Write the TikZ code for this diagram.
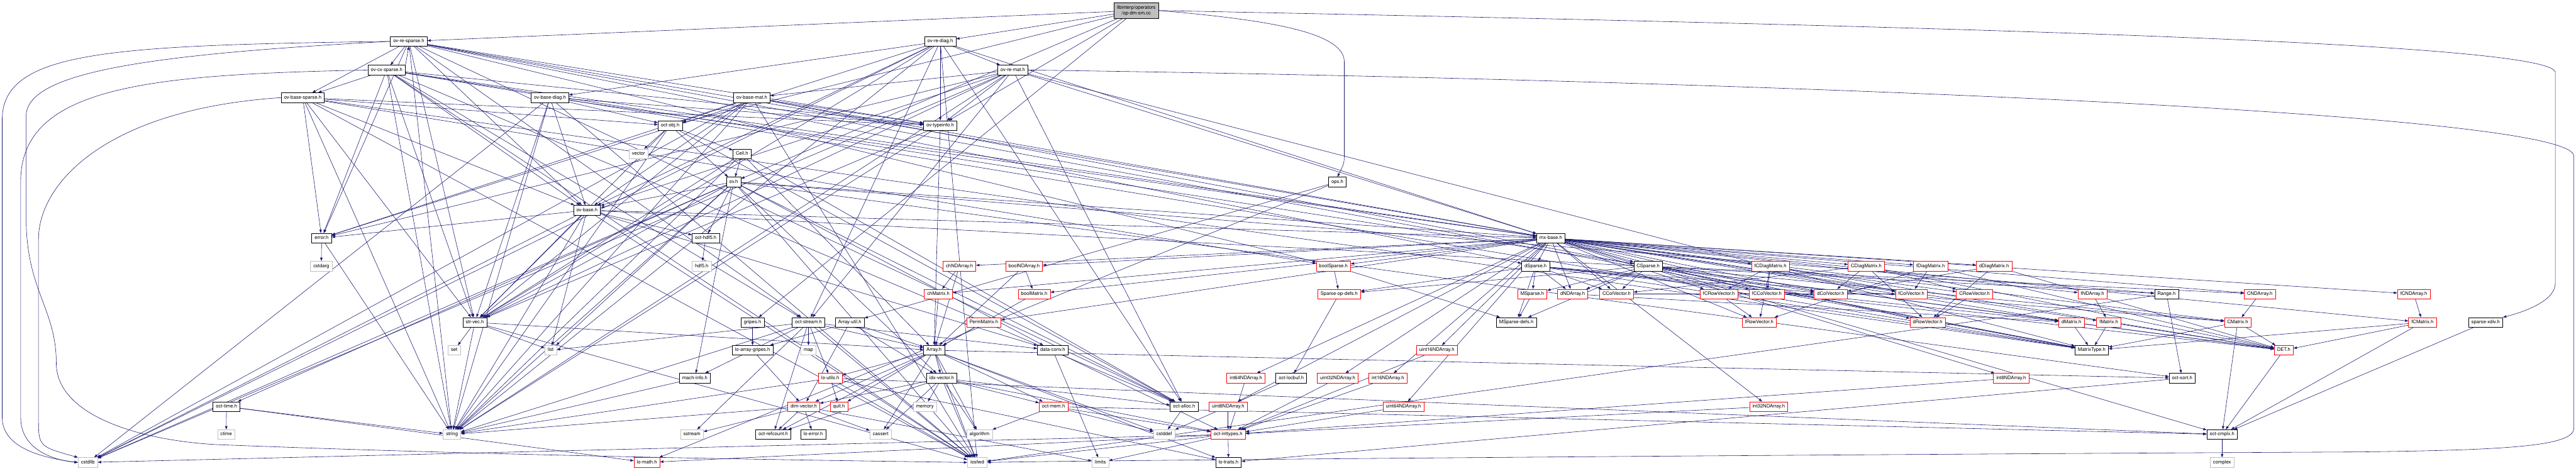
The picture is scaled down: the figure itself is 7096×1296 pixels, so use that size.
\documentclass[tikz,border=0pt]{standalone}
\usepackage{fontspec}
\setmainfont{TeX Gyre Heros}
\usetikzlibrary{arrows.meta,backgrounds}
\definecolor{edgeblue}{HTML}{191970}
\definecolor{sysgray}{HTML}{BFBFBF}
\tikzset{
  hdr/.style={draw=black, line width=0.75pt, fill=white, font=\fontsize{10}{12}\selectfont,
    inner xsep=6pt, inner ysep=0pt, minimum height=20pt, text height=7.2pt, text depth=2.2pt},
  trunc/.style={hdr, draw=red},
  sys/.style={hdr, draw=sysgray},
  rootbox/.style={hdr, fill=sysgray, align=center, minimum height=33pt, text height=, text depth=},
  dep/.style={draw=edgeblue, line width=0.75pt, -{Triangle[length=7pt,width=5pt]}}
}
\begin{document}
\begin{tikzpicture}[x=0.75pt,y=-0.75pt]
\path[use as bounding box] (0,0) rectangle (7096,1296);

% source file
\node[rootbox] (root) at (3130,29) {libinterp/operators\\/op-dm-sm.cc};

% octave value headers
\node[hdr] (ovresparse) at (1126,114) {ov-re-sparse.h};
\node[hdr] (ovrediag) at (2590,114) {ov-re-diag.h};
\node[hdr] (ovcxsparse) at (1065,193) {ov-cx-sparse.h};
\node[hdr] (ovremat) at (2790,193) {ov-re-mat.h};
\node[hdr] (ovbasesparse) at (834,269) {ov-base-sparse.h};
\node[hdr] (ovbasediag) at (1515,269) {ov-base-diag.h};
\node[hdr] (ovbasemat) at (2071,269) {ov-base-mat.h};
\node[hdr] (octobj) at (1846,346) {oct-obj.h};
\node[hdr] (ovtypeinfo) at (2590,346) {ov-typeinfo.h};
\node[sys] (vector) at (1759,424) {vector};
\node[hdr] (cell) at (2044,424) {Cell.h};
\node[hdr] (ovh) at (2021,501) {ov.h};
\node[hdr] (opsh) at (3684,501) {ops.h};
\node[hdr] (ovbase) at (1617,579) {ov-base.h};
\node[hdr] (errorh) at (886,656) {error.h};
\node[hdr] (octhdf) at (1944,656) {oct-hdf5.h};
\node[hdr] (mxbase) at (4272,656) {mx-base.h};

% row 733
\node[sys] (cstdarg) at (885,733) {cstdarg};
\node[sys] (hdf) at (1933,733) {hdf5.h};
\node[trunc] (chnda) at (2643,733) {chNDArray.h};
\node[trunc] (boolnda) at (2821,733) {boolNDArray.h};
\node[trunc] (boolsparse) at (3673,733) {boolSparse.h};
\node[hdr] (dsparse) at (4230,733) {dSparse.h};
\node[hdr] (csparse) at (4540,733) {CSparse.h};
\node[trunc] (fcdiag) at (4877,733) {fCDiagMatrix.h};
\node[trunc] (cdiag) at (5141,733) {CDiagMatrix.h};
\node[trunc] (fdiag) at (5318,733) {fDiagMatrix.h};
\node[trunc] (ddiag) at (5493,733) {dDiagMatrix.h};

% row 810
\node[trunc] (chmat) at (2585,810) {chMatrix.h};
\node[trunc] (boolmat) at (2849,810) {boolMatrix.h};
\node[trunc] (sparseop) at (3689,810) {Sparse-op-defs.h};
\node[trunc] (msparse) at (4221,810) {MSparse.h};
\node[trunc] (dnda) at (4332,810) {dNDArray.h};
\node[trunc] (ccolvec) at (4453,810) {CColVector.h};
\node[trunc] (fcrowvec) at (4735,810) {fCRowVector.h};
\node[trunc] (fccolvec) at (4867,810) {fCColVector.h};
\node[trunc] (dcolvec) at (5043,810) {dColVector.h};
\node[trunc] (fcolvec) at (5265,810) {fColVector.h};
\node[trunc] (crowvec) at (5439,810) {CRowVector.h};
\node[trunc] (fnda) at (5764,810) {fNDArray.h};
\node[hdr] (range) at (5968,810) {Range.h};
\node[trunc] (cnda) at (6225,810) {CNDArray.h};
\node[trunc] (fcnda) at (6649,810) {fCNDArray.h};

% row 888
\node[hdr] (strvec) at (1308,888) {str-vec.h};
\node[hdr] (gripes) at (2073,888) {gripes.h};
\node[hdr] (octstream) at (2227,888) {oct-stream.h};
\node[hdr] (arrayutil) at (2341,888) {Array-util.h};
\node[trunc] (permmat) at (2710,888) {PermMatrix.h};
\node[hdr] (msparsedefs) at (4177,888) {MSparse-defs.h};
\node[trunc] (frowvec) at (4846,888) {fRowVector.h};
\node[trunc] (drowvec) at (5310,888) {dRowVector.h};
\node[trunc] (dmat) at (5706,888) {dMatrix.h};
\node[trunc] (fmat) at (5809,888) {fMatrix.h};
\node[trunc] (cmat) at (6164,888) {CMatrix.h};
\node[trunc] (fcmat) at (6673,888) {fCMatrix.h};
\node[hdr] (sparsexdiv) at (6847,888) {sparse-xdiv.h};

% row 965
\node[sys] (set) at (1251,965) {set};
\node[sys] (list) at (1517,965) {list};
\node[hdr] (loarraygripes) at (2073,965) {lo-array-gripes.h};
\node[sys] (map) at (2227,965) {map};
\node[hdr] (array) at (2573,965) {Array.h};
\node[hdr] (dataconv) at (2900,965) {data-conv.h};
\node[trunc] (uint16) at (3958,965) {uint16NDArray.h};
\node[hdr] (matrixtype) at (5762,965) {MatrixType.h};
\node[trunc] (det) at (6291,965) {DET.h};

% row 1042
\node[hdr] (machinfo) at (1914,1042) {mach-info.h};
\node[trunc] (loutils) at (2287,1042) {lo-utils.h};
\node[hdr] (idxvec) at (2594,1042) {idx-vector.h};
\node[trunc] (int64) at (3432,1042) {int64NDArray.h};
\node[hdr] (octlocbuf) at (3557,1042) {oct-locbuf.h};
\node[trunc] (uint32) at (3685,1042) {uint32NDArray.h};
\node[trunc] (int16) at (3823,1042) {int16NDArray.h};
\node[trunc] (int8) at (5540,1042) {int8NDArray.h};
\node[hdr] (octsort) at (6011,1042) {oct-sort.h};

% row 1120
\node[hdr] (octtime) at (624,1120) {oct-time.h};
\node[trunc] (dimvec) at (2214,1120) {dim-vector.h};
\node[trunc] (quit) at (2311,1120) {quit.h};
\node[sys] (memory) at (2548,1120) {memory};
\node[trunc] (octmem) at (2902,1120) {oct-mem.h};
\node[hdr] (octalloc) at (3262,1120) {oct-alloc.h};
\node[trunc] (uint8) at (3383,1120) {uint8NDArray.h};
\node[trunc] (uint64) at (3866,1120) {uint64NDArray.h};
\node[trunc] (int32) at (4872,1120) {int32NDArray.h};

% row 1197
\node[sys] (ctime) at (623,1197) {ctime};
\node[sys] (string) at (1245,1197) {string};
\node[sys] (sstream) at (1906,1197) {sstream};
\node[hdr] (octrefcount) at (2130,1197) {oct-refcount.h};
\node[hdr] (loerror) at (2240,1197) {lo-error.h};
\node[sys] (cassert) at (2426,1197) {cassert};
\node[sys] (algorithm) at (2698,1197) {algorithm};
\node[sys] (cstddef) at (3207,1197) {cstddef};
\node[trunc] (octinttypes) at (3383,1197) {oct-inttypes.h};
\node[hdr] (octcmplx) at (6121,1197) {oct-cmplx.h};

% row 1274
\node[sys] (cstdlib) at (242,1274) {cstdlib};
\node[trunc] (lomath) at (1782,1274) {lo-math.h};
\node[sys] (iosfwd) at (2692,1274) {iosfwd};
\node[sys] (limits) at (3031,1274) {limits};
\node[hdr] (lotraits) at (3384,1274) {lo-traits.h};
\node[sys] (complex) at (6121,1274) {complex};

\begin{scope}[on background layer]
% from the source file
\foreach \dst in {ovresparse,ovrediag,ovtypeinfo,gripes,octobj,ovh}
  \draw[dep] (root) -- (\dst);
\draw[dep] (root.east) .. controls (3500,55) and (3703,90) .. (3703,170) -- (3703,420) .. controls (3703,450) .. (opsh.north);
\draw[dep] (root.east) .. controls (5500,75) and (7039,120) .. (7039,200) -- (7039,780) .. controls (7039,830) and (6950,860) .. (sparsexdiv.north east);

% octave value headers
\foreach \dst in {cstdlib,iosfwd,string,mxbase,strvec,octalloc,errorh,octstream,ovbase,ovbasediag,ovremat,ovtypeinfo}
  \draw[dep] (ovrediag) -- (\dst);
\foreach \dst in {string,mxbase,octalloc,strvec,errorh,octstream,ovbase,ovtypeinfo,dsparse,matrixtype,ovbasesparse,ovcxsparse,boolsparse}
  \draw[dep] (ovresparse) -- (\dst);
\draw[dep] (ovresparse.west) .. controls (300,125) and (6,140) .. (6,330) -- (6,1150) .. controls (6,1235) and (120,1262) .. (cstdlib.west);
\draw[dep] (ovresparse.west) .. controls (400,150) and (72,200) .. (72,320) -- (72,600) .. controls (72,800) and (155,850) .. (155,1000) .. controls (155,1150) and (400,1215) .. (600,1225) .. controls (1500,1260) and (2400,1270) .. (iosfwd.west);
\foreach \dst in {iosfwd,string,mxbase,octalloc,strvec,errorh,octstream,ovbase,ovtypeinfo,csparse,matrixtype,ovbasesparse}
  \draw[dep] (ovcxsparse) -- (\dst);
\draw[dep] (ovcxsparse.west) .. controls (400,205) and (57,240) .. (57,500) -- (57,1150) .. controls (57,1240) and (150,1268) .. (cstdlib.west);
\draw[dep] (ovcxsparse.north east) -- (ovresparse.south);
\foreach \dst in {iosfwd,string,strvec,errorh,octobj,ovbase,ovtypeinfo,boolsparse,matrixtype}
  \draw[dep] (ovbasesparse) -- (\dst);
\draw[dep] (ovbasesparse.west) .. controls (300,300) and (106,500) .. (106,660) -- (106,1150) .. controls (106,1230) .. (cstdlib.north west);
\foreach \dst in {cstdlib,iosfwd,string,mxbase,strvec,octobj,ovbase,ovtypeinfo}
  \draw[dep] (ovbasediag) -- (\dst);
\foreach \dst in {cstdlib,string,mxbase,octalloc,strvec,errorh,octstream,ovbase,ovbasemat,ovtypeinfo,matrixtype}
  \draw[dep] (ovremat) -- (\dst);
\draw[dep] (ovremat.east) .. controls (4500,215) and (7090,300) .. (7090,430) -- (7090,1180) .. controls (7090,1230) and (6900,1240) .. (6500,1245) .. controls (4500,1255) and (2900,1270) .. (iosfwd.east);
\foreach \dst in {cstdlib,iosfwd,string,mxbase,matrixtype,strvec,errorh,octobj,ovbase,ovtypeinfo}
  \draw[dep] (ovbasemat) -- (\dst);
\foreach \dst in {array,strvec,string}
  \draw[dep] (ovtypeinfo) -- (\dst);
\foreach \dst in {string,vector,octalloc,strvec,cell,ovh}
  \draw[dep] (octobj) -- (\dst);
\foreach \dst in {string,array,octalloc,strvec,ovh}
  \draw[dep] (cell) -- (\dst);
\foreach \dst in {cstdlib,iosfwd,string,list,range,dataconv,idxvec,machinfo,mxbase,octalloc,octtime,strvec,octhdf,octsort,ovbase}
  \draw[dep] (ovh) -- (\dst);
\foreach \dst in {cstdlib,iosfwd,list,string,range,dataconv,mxbase,strvec,octhdf,errorh}
  \draw[dep] (ovbase) -- (\dst);
\draw[dep] (octhdf) -- (hdf);
\draw[dep] (errorh) -- (cstdarg);
\draw[dep] (errorh) -- (string);
\draw[dep] (opsh) -- (arrayutil);
\draw[dep] (opsh) -- (lomath);

% liboctave utilities
\foreach \dst in {iosfwd,string,list,set,array}
  \draw[dep] (strvec) -- (\dst);
\draw[dep] (gripes) -- (loarraygripes);
\foreach \dst in {iosfwd,sstream,string,map,array,dataconv,loutils,machinfo,octrefcount,list}
  \draw[dep] (octstream) -- (\dst);
\foreach \dst in {array,dimvec,idxvec,loarraygripes}
  \draw[dep] (arrayutil) -- (\dst);
\draw[dep] (loarraygripes) -- (dimvec);
\draw[dep] (machinfo) -- (string);
\foreach \dst in {iosfwd,string,octcmplx,lotraits,quit}
  \draw[dep] (loutils) -- (\dst);
\foreach \dst in {cassert,limits,sstream,string,loerror,octrefcount}
  \draw[dep] (dimvec) -- (\dst);
\foreach \dst in {ctime,string,lomath}
  \draw[dep] (octtime) -- (\dst);
\foreach \dst in {cassert,cstddef,algorithm,iosfwd,dimvec,idxvec,lotraits,loutils,octsort,quit,octmem,octrefcount}
  \draw[dep] (array) -- (\dst);
\foreach \dst in {cassert,algorithm,iosfwd,memory,dimvec,octinttypes,octalloc,octmem,octrefcount}
  \draw[dep] (idxvec) -- (\dst);
\foreach \dst in {cstddef,algorithm,octcmplx,octinttypes}
  \draw[dep] (octmem) -- (\dst);
\draw[dep] (octalloc) -- (cstddef);
\foreach \dst in {cstdlib,limits,iosfwd,lotraits,lomath}
  \draw[dep] (octinttypes) -- (\dst);
\draw[dep] (dataconv) -- (limits);
\draw[dep] (dataconv) -- (octinttypes);

% matrix and array classes
\draw[dep] (chnda) -- (chmat);
\draw[dep] (chnda) -- (array);
\draw[dep] (boolnda) -- (boolmat);
\draw[dep] (boolnda) -- (array);
\draw[dep] (chmat) -- (array);
\draw[dep] (boolmat) -- (array);
\draw[dep] (permmat) -- (array);
\foreach \src in {int64,uint8,uint16,uint32,int16,uint64,int8,int32}
  \draw[dep] (\src) -- (octinttypes);
\foreach \dst in {boolmat,chmat,dmat,cmat,fmat,fcmat,dcolvec,ccolvec,fcolvec,fccolvec,drowvec,crowvec,frowvec,fcrowvec,ddiag,cdiag,fdiag,fcdiag,permmat,boolnda,chnda,dnda,cnda,fnda,fcnda,int8,int16,int32,int64,uint8,uint16,uint32,uint64,boolsparse,dsparse,csparse}
  \draw[dep] (mxbase) -- (\dst);
\foreach \dst in {dmat,dnda,cmat,dcolvec,ccolvec,det,msparse,msparsedefs,sparseop,matrixtype}
  \draw[dep] (dsparse) -- (\dst);
\foreach \dst in {dmat,cnda,cmat,dcolvec,ccolvec,det,msparse,msparsedefs,sparseop,matrixtype,dnda,octcmplx}
  \draw[dep] (csparse) -- (\dst);
\draw[dep] (boolsparse) -- (sparseop);
\draw[dep] (boolsparse) -- (msparsedefs);
\draw[dep] (msparse) -- (msparsedefs);
\draw[dep] (sparseop) -- (octlocbuf);
\draw[dep] (octlocbuf) -- (cstddef);
\foreach \dst in {fccolvec,fcrowvec,frowvec,fcolvec,det}
  \draw[dep] (fcdiag) -- (\dst);
\foreach \dst in {dcolvec,crowvec,ccolvec,drowvec,det}
  \draw[dep] (cdiag) -- (\dst);
\foreach \dst in {fcolvec,frowvec,det}
  \draw[dep] (fdiag) -- (\dst);
\foreach \dst in {dcolvec,drowvec,det}
  \draw[dep] (ddiag) -- (\dst);
\draw[dep] (crowvec) -- (drowvec);
\draw[dep] (fcrowvec) -- (frowvec);
\draw[dep] (ccolvec) -- (dcolvec);
\draw[dep] (fccolvec) -- (fcolvec);
\draw[dep] (dnda) -- (dmat);
\draw[dep] (fnda) -- (fmat);
\draw[dep] (cnda) -- (cmat);
\draw[dep] (fcnda) -- (fcmat);
\draw[dep] (dmat) -- (matrixtype);
\draw[dep] (dmat) -- (det);
\draw[dep] (fmat) -- (matrixtype);
\draw[dep] (fmat) -- (det);
\foreach \dst in {det,octcmplx,matrixtype}
  \draw[dep] (cmat) -- (\dst);
\foreach \dst in {det,octcmplx,matrixtype}
  \draw[dep] (fcmat) -- (\dst);
\draw[dep] (range) -- (octsort);
\draw[dep] (range) -- (iosfwd);
\draw[dep] (octsort) -- (lotraits);
\draw[dep] (sparsexdiv) -- (octcmplx);
\draw[dep] (det) -- (octcmplx);
\draw[dep] (octcmplx) -- (complex);
\end{scope}
\end{tikzpicture}
\end{document}
